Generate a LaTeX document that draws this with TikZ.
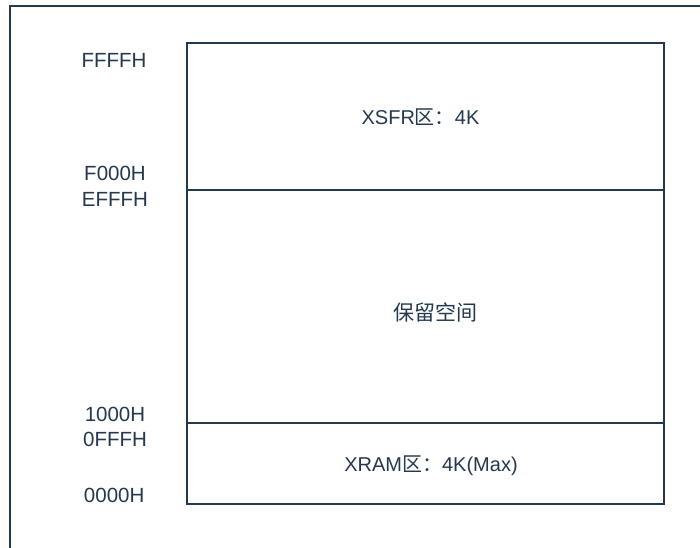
\documentclass[tikz,border=0pt]{standalone}
\usepackage{fontspec}
\setmainfont{Liberation Sans}
\newfontfamily\cjk{Noto Sans CJK SC}
\definecolor{ink}{HTML}{24394F}
\begin{document}
\begin{tikzpicture}[x=1pt,y=-1pt,
  frameline/.style={draw=ink,line width=1.9pt},
  addr/.style={text=ink,font=\fontsize{20.5}{22}\selectfont,anchor=base,inner sep=0pt},
  areatxt/.style={text=ink,font=\fontsize{20}{22}\selectfont,anchor=base,inner sep=0pt}]
\useasboundingbox (0,0) rectangle (700,547);
\fill[white] (0,0) rectangle (700,547);
% outer frame
\draw[frameline] (10,560) -- (10,6) -- (712,6);
% memory map
\draw[frameline] (187.3,42.7) rectangle (664,504.3);
\draw[frameline] (187.3,190) -- (664,190);
\draw[frameline] (187.3,423.3) -- (664,423.3);
% address labels
\node[addr] (a1) at (114,67.7) {FFFFH};
\node[addr] (a2) at (115,180.7) {F000H};
\node[addr] (a3) at (115,206.7) {EFFFH};
\node[addr] (a4) at (115,421.7) {1000H};
\node[addr] (a5) at (115,446) {0FFFH};
\node[addr] (a6) at (114.2,502.7) {0000H};
% area labels
\node[areatxt] (xsfr) at (420.5,124) {XSFR{\cjk 区：}4K};
\node[text=ink,font=\fontsize{21}{22}\selectfont\cjk,inner sep=0pt] (resv) at (435,312.5) {保留空间};
\node[areatxt] (xram) at (431,471) {XRAM{\cjk 区：}4K(Max)};
\end{tikzpicture}
\end{document}
